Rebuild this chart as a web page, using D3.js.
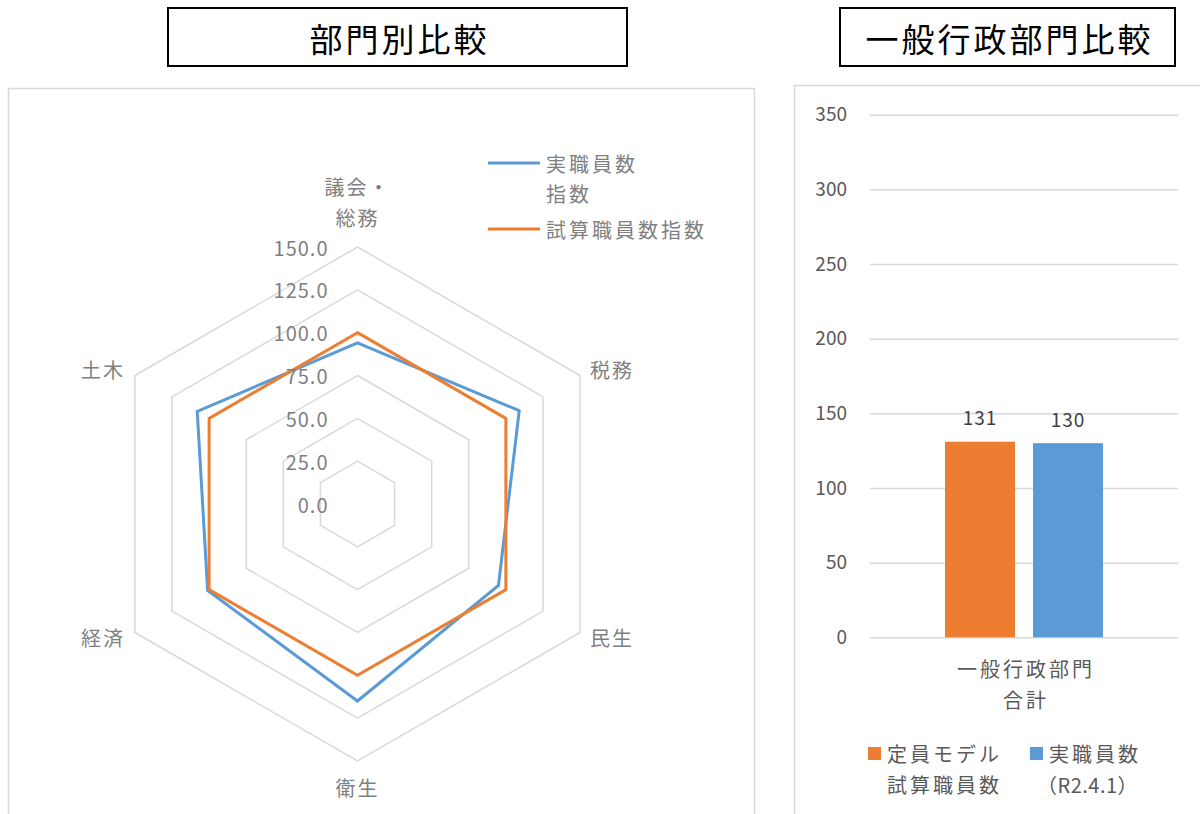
<!DOCTYPE html>
<html>
<head>
<meta charset="utf-8">
<script src="https://cdn.jsdelivr.net/npm/d3@7"></script>
<style>
  body { margin: 0; background: #fff; }
  svg text { font-family: "Noto Sans CJK JP", "Noto Sans", sans-serif; }
</style>
</head>
<body>
<div id="chart"></div>
<script>
// data
const categories = ["議会・\n総務", "税務", "民生", "衛生", "経済", "土木"];
const actualIndex = [94, 109, 95, 115, 101, 108];   // 実職員数指数
const modelIndex = [100, 100, 100, 100, 100, 100];  // 試算職員数指数
const radarTicks = [0, 25, 50, 75, 100, 125, 150];

const barCategory = ["一般行政部門\n合計"];
const barSeries = ["定員モデル\n試算職員数", "実職員数\n（R2.4.1）"];
const barValues = [131, 130];
const barTicks = [0, 50, 100, 150, 200, 250, 300, 350];

const blue = "#5B9BD5", orange = "#ED7D31", grid = "#D9D9D9";

const svg = d3.select("#chart").append("svg")
    .attr("width", 1200)
    .attr("height", 814);

// panels and titles
svg.append("rect").attr("x", 8.5).attr("y", 88.5).attr("width", 746).attr("height", 760)
    .attr("fill", "none").attr("stroke", grid).attr("stroke-width", 1.5);
svg.append("rect").attr("x", 794.5).attr("y", 85.5).attr("width", 430).attr("height", 760)
    .attr("fill", "none").attr("stroke", grid).attr("stroke-width", 1.5);

const titles = [
    { x: 168, w: 459, text: "部門別比較" },
    { x: 840, w: 335, text: "一般行政部門比較" }
];
titles.forEach(t => {
    svg.append("rect").attr("x", t.x).attr("y", 8).attr("width", t.w).attr("height", 58)
        .attr("fill", "#fff").attr("stroke", "#000").attr("stroke-width", 2);
    svg.append("text").attr("x", t.x + t.w / 2 + 2).attr("y", 38)
        .attr("text-anchor", "middle").attr("dominant-baseline", "central")
        .attr("font-size", 33).attr("letter-spacing", 3).attr("fill", "#000")
        .text(t.text);
});

// 1: RADAR
const cx = 357.5, cy = 504;
const r = d3.scaleLinear().domain([0, 150]).range([0, 257]);
const angle = i => i * 2 * Math.PI / categories.length;
const radar = svg.append("g").attr("transform", `translate(${cx},${cy})`);

const ring = d3.lineRadial()
    .angle((d, i) => angle(i))
    .radius(d => r(d))
    .curve(d3.curveLinearClosed);

radar.selectAll(".ring")
    .data(radarTicks.filter(d => d > 0))
    .enter().append("path")
    .attr("class", "ring")
    .attr("d", v => ring(categories.map(() => v)))
    .attr("fill", "none")
    .attr("stroke", grid)
    .attr("stroke-width", 1.5);

radar.selectAll(".series")
    .data([{ vals: actualIndex, color: blue }, { vals: modelIndex, color: orange }])
    .enter().append("path")
    .attr("class", "series")
    .attr("d", d => ring(d.vals))
    .attr("fill", "none")
    .attr("stroke", d => d.color)
    .attr("stroke-width", 3)
    .attr("stroke-linejoin", "miter");

radar.selectAll(".rtick")
    .data(radarTicks)
    .enter().append("text")
    .attr("x", -29)
    .attr("y", d => -r(d))
    .attr("text-anchor", "end")
    .attr("dominant-baseline", "central")
    .attr("font-size", 20)
    .attr("letter-spacing", 1)
    .attr("fill", "#7F7F7F")
    .text(d => d3.format(".1f")(d));

categories.forEach((c, i) => {
    const a = angle(i);
    const vx = Math.sin(a) * r(150), vy = -Math.cos(a) * r(150);
    const lines = c.split("\n");
    let x = vx, y = vy, anchor = "middle";
    if (Math.abs(vx) < 1) {
        y = vy < 0 ? vy - 30 - (lines.length - 1) * 31 : vy + 26;
    } else {
        x = vx > 0 ? vx + 10 : vx - 10;
        anchor = vx > 0 ? "start" : "end";
        y = vy < 0 ? vy - 6 : vy + 5;
    }
    const t = radar.append("text")
        .attr("text-anchor", anchor)
        .attr("font-size", 20)
        .attr("letter-spacing", 2)
        .attr("fill", "#7F7F7F");
    lines.forEach((l, k) => {
        t.append("tspan").attr("x", x).attr("y", y + k * 31)
            .attr("dominant-baseline", "central").text(l);
    });
});

// radar legend
const radarLegend = [
    { label: ["実職員数", "指数"], color: blue, y: 163 },
    { label: ["試算職員数指数"], color: orange, y: 229 }
];
radarLegend.forEach(d => {
    svg.append("line").attr("x1", 488).attr("x2", 540).attr("y1", d.y).attr("y2", d.y)
        .attr("stroke", d.color).attr("stroke-width", 3);
    d.label.forEach((l, k) => {
        svg.append("text").attr("x", 546).attr("y", d.y + k * 30)
            .attr("dominant-baseline", "central")
            .attr("font-size", 20).attr("letter-spacing", 3).attr("fill", "#7F7F7F")
            .text(l);
    });
});

// 2: BAR CHART
const plotLeft = 870, plotRight = 1178;
const y = d3.scaleLinear().domain([0, 350]).range([637.3, 114.7]);
const x0 = d3.scaleBand().domain(barCategory).range([plotLeft, plotRight])
    .paddingInner(0).paddingOuter(0.4747);
const x1 = d3.scaleBand().domain(barSeries).range([0, x0.bandwidth()]).paddingInner(18 / 88);
const barColors = [orange, blue];

const yAxis = svg.append("g")
    .attr("transform", `translate(${plotLeft},0)`)
    .call(d3.axisLeft(y).tickValues(barTicks).tickSize(-(plotRight - plotLeft)).tickPadding(23));
yAxis.select(".domain").remove();
yAxis.selectAll(".tick line").attr("stroke", grid).attr("stroke-width", 1.5);
yAxis.selectAll(".tick text")
    .attr("fill", "#595959")
    .attr("font-size", 19)
    .attr("font-family", "'Noto Sans CJK JP', 'Noto Sans', sans-serif");

const bars = svg.append("g").attr("transform", `translate(${x0(barCategory[0])},0)`);
bars.selectAll("rect")
    .data(barValues)
    .enter().append("rect")
    .attr("x", (d, i) => x1(barSeries[i]))
    .attr("y", d => y(d))
    .attr("width", x1.bandwidth())
    .attr("height", d => y(0) - y(d))
    .attr("fill", (d, i) => barColors[i]);

bars.selectAll(".val")
    .data(barValues)
    .enter().append("text")
    .attr("x", (d, i) => x1(barSeries[i]) + x1.bandwidth() / 2)
    .attr("y", d => y(d) - 25)
    .attr("text-anchor", "middle")
    .attr("dominant-baseline", "central")
    .attr("font-size", 19)
    .attr("letter-spacing", 1)
    .attr("fill", "#404040")
    .text(d => d);

// category label
const catText = svg.append("text")
    .attr("text-anchor", "middle")
    .attr("font-size", 20)
    .attr("letter-spacing", 3)
    .attr("fill", "#595959");
barCategory[0].split("\n").forEach((l, k) => {
    catText.append("tspan")
        .attr("x", x0(barCategory[0]) + x0.bandwidth() / 2 + 2)
        .attr("y", 668 + k * 31)
        .attr("dominant-baseline", "central")
        .text(l);
});

// bar legend
const legendX = [868, 1030];
barSeries.forEach((s, i) => {
    svg.append("rect").attr("x", legendX[i]).attr("y", 747).attr("width", 13).attr("height", 13)
        .attr("fill", barColors[i]);
    const t = svg.append("text")
        .attr("font-size", 20)
        .attr("fill", "#595959");
    s.split("\n").forEach((l, k) => {
        const paren = l.startsWith("（");
        t.append("tspan").attr("x", legendX[i] + 19 - (paren ? 12 : 0))
            .attr("y", 753 + k * 31)
            .attr("letter-spacing", paren ? 0.5 : 3)
            .attr("dominant-baseline", "central")
            .text(l);
    });
});
</script>
</body>
</html>
